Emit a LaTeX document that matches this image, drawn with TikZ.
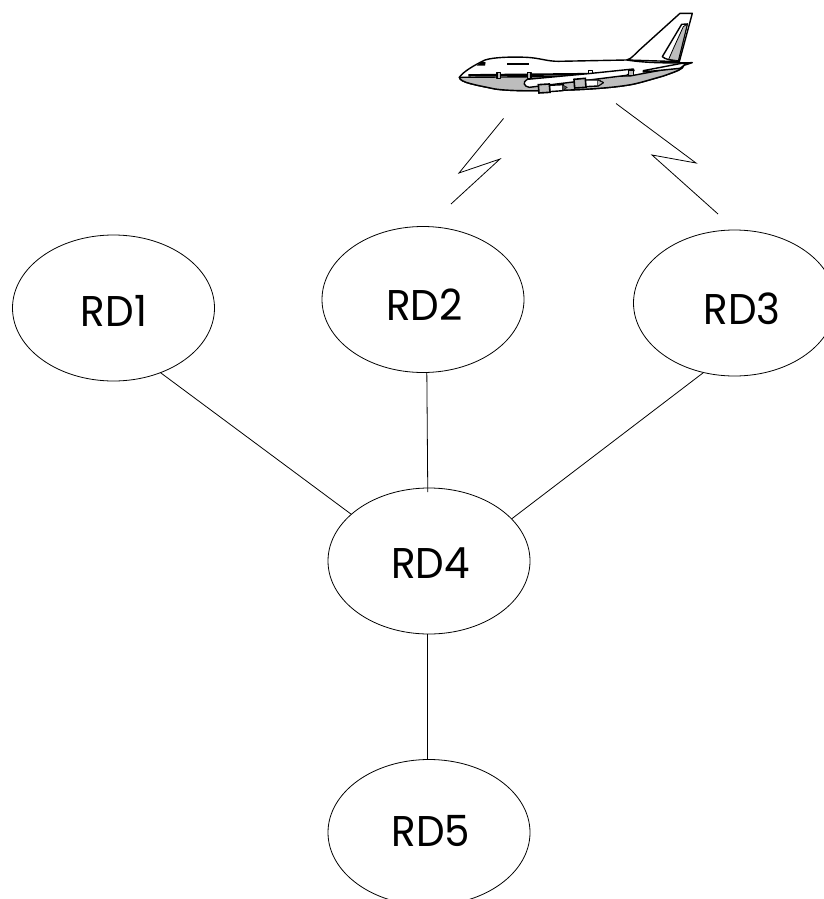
\documentclass[tikz,border=0pt]{standalone}
\usepackage{fontspec}
\setmainfont{Poppins}
\usetikzlibrary{shapes.geometric}
\newcommand{\rdlab}[1]{\scalebox{0.94}[1]{#1}}
\tikzset{
  rdnode/.style={ellipse,draw=black,line width=0.8pt,minimum width=202pt,minimum height=146pt,inner sep=0pt,outer sep=0pt},
  rdtext/.style={font=\fontsize{43}{43}\selectfont,inner sep=0pt,outer sep=0pt,text=black},
  link/.style={draw=black,line width=0.8pt},
  radio/.style={draw=black,line width=0.8pt,line join=miter},
  planeline/.style={draw=black,line width=1.4pt,line join=round},
  planebold/.style={draw=black,line width=2.4pt},
}
\definecolor{planegray}{gray}{0.74}
\begin{document}
\begin{tikzpicture}[x=1pt,y=-1pt]
\useasboundingbox (0,0) rectangle (824,899);
\clip (0,0) rectangle (824,899);
\fill[white] (0,0) rectangle (824,899);
% nodes
\node[rdnode,label={[rdtext,xshift=0.5pt,yshift=-3pt]center:\rdlab{RD1}}] (rd1) at (113.5,308) {};
\node[rdnode,label={[rdtext,xshift=1.5pt,yshift=-5.2pt]center:\rdlab{RD2}}] (rd2) at (423,299.5) {};
\node[rdnode,label={[rdtext,xshift=7.5pt,yshift=-6pt]center:\rdlab{RD3}}] (rd3) at (734.5,303) {};
\node[rdnode,label={[rdtext,xshift=1.5pt,yshift=-2pt]center:\rdlab{RD4}}] (rd4) at (429,561) {};
\node[rdnode,label={[rdtext,xshift=2pt,yshift=1.8pt]center:\rdlab{RD5}}] (rd5) at (429,832.5) {};
% links
\draw[link] (rd1.-54.4) -- (rd4.149.8);
\draw[link,shorten >=-4pt] (rd2.-87) -- (rd4.91.5);
\draw[link] (rd3.-114) -- (rd4.27.4);
\draw[link] (rd4.-91.5) -- (rd5.91.5);
% radio links
\coordinate (a1) at (503.5,118.5);
\coordinate (a2) at (459,173);
\coordinate (a3) at (500,159);
\coordinate (a4) at (451,204);
\coordinate (b1) at (616,103.5);
\coordinate (b2) at (696,163);
\coordinate (b3) at (652,155);
\coordinate (b4) at (718,214);
\draw[radio] (a1) -- (a2) -- (a3) -- (a4);
\draw[radio] (b1) -- (b2) -- (b3) -- (b4);
% aeroplane (coordinates are 3x, offset by x=430)
\begin{scope}[shift={(430,0)},x=0.3333pt,y=-0.3333pt]
  % fin
  \path[planeline,fill=white] (590,180) .. controls (605,176) and (612,165) .. (625,153)
     -- (750,40) -- (787,40) -- (748,185) -- cycle;
  % body
  \path[planeline,fill=white] (88,232) .. controls (100,215) and (130,197) .. (165,180)
     .. controls (190,172) and (240,170) .. (290,172)
     .. controls (330,174) and (350,184) .. (385,184)
     -- (590,180) .. controls (640,188) and (700,190) .. (787,188)
     -- (762,196) .. controls (758,208) and (745,212) .. (700,228)
     .. controls (650,242) and (620,252) .. (590,256)
     .. controls (540,264) and (450,270) .. (380,271)
     .. controls (300,274) and (220,272) .. (190,266)
     .. controls (140,255) and (90,248) .. (88,232) -- cycle;
  % belly
  \path[planeline,fill=planegray] (88,232) -- (600,228) -- (760,198)
     .. controls (755,208) and (745,212) .. (700,228)
     .. controls (650,242) and (620,252) .. (590,256)
     .. controls (540,264) and (450,270) .. (380,271)
     .. controls (300,274) and (220,272) .. (190,266)
     .. controls (140,255) and (90,248) .. (88,232) -- cycle;
  % cheat line and windows
  \draw[planebold] (115,226) -- (600,221);
  \draw[planebold] (232,192) -- (298,192);
  \fill[black] (140,197) -- (155,185) -- (167,187) -- (165,197) -- cycle;
  % doors
  \path[planeline,fill=planegray] (201,218) rectangle (212,236);
  \path[planeline,fill=planegray] (292,218) rectangle (303,236);
  \path[planeline,fill=white] (476,212) rectangle (487,220);
  % rudder
  \path[planeline,fill=white] (755,73) -- (772,72) -- (745,183) .. controls (725,182) and (705,178) .. (697,170) -- cycle;
  \path[draw=black,line width=0.8pt,fill=planegray] (760,80) -- (772,72) -- (745,182) -- (716,178) -- (730,146) -- cycle;
  % tailplane
  \path[planeline,fill=white] (640,212) -- (755,190) -- (770,190) -- (750,205) -- (640,216) -- cycle;
  % wing
  \path[planeline,fill=white] (475,221) -- (610,207) -- (612,212) -- (590,226) -- (430,246) -- (330,258)
     -- (298,262) .. controls (282,260) and (276,246) .. (292,238) -- cycle;
  \path[draw=black,line width=1pt,fill=planegray] (596,211) rectangle (610,227);
  % far engine
  \path[planeline,fill=white] (465,240) -- (505,240) -- (520,248) -- (505,258) -- (465,260) -- cycle;
  \path[fill=planegray,draw=black,line width=0.6pt] (503,240) -- (520,248) -- (503,258) -- cycle;
  \path[draw=black,line width=1.6pt,fill=planegray] (432,238) -- (466,235) -- (468,262) -- (434,264) -- cycle;
  % near engine
  \path[planeline,fill=white] (358,256) -- (400,254) -- (400,272) -- (358,275) -- cycle;
  \path[fill=black!70,draw=black] (398,255) -- (412,262) -- (398,272) -- cycle;
  \path[draw=black,line width=1.6pt,fill=planegray] (325,254) -- (358,252) -- (360,277) -- (327,279) -- cycle;
\end{scope}
\end{tikzpicture}
\end{document}
